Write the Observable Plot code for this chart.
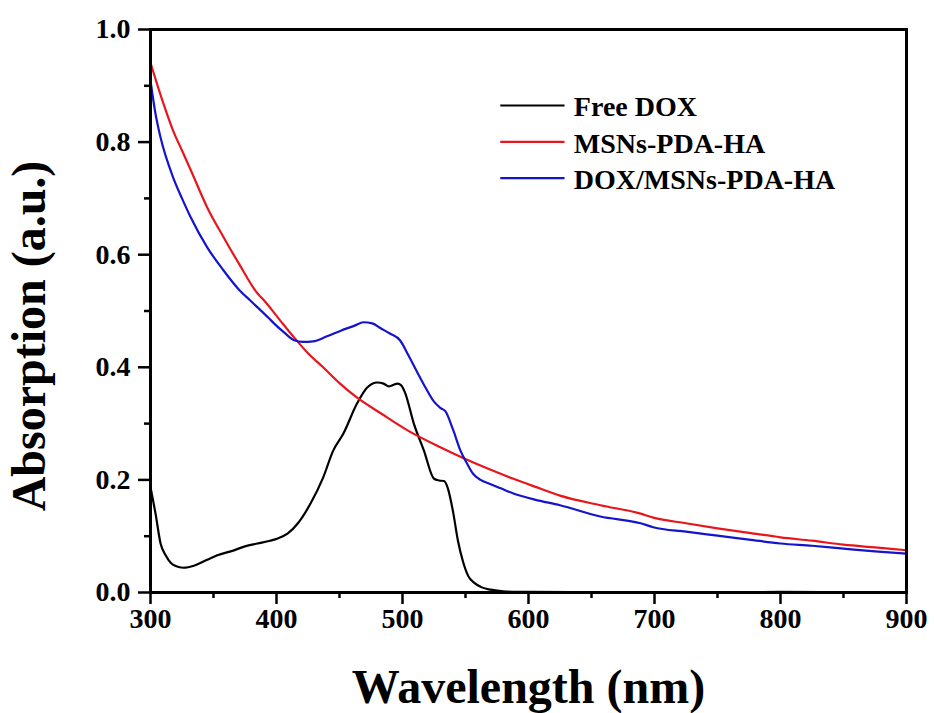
<!DOCTYPE html>
<html>
<head>
<meta charset="utf-8">
<script src="https://cdn.jsdelivr.net/npm/d3@7"></script>
<script src="https://cdn.jsdelivr.net/npm/@observablehq/plot@0.6"></script>
<style>
  html, body { margin: 0; padding: 0; background: #fff; }
</style>
</head>
<body>
<div id="chart"></div>
<script>
// ---- Data ----
const seriesNames = ["Free DOX", "MSNs-PDA-HA", "DOX/MSNs-PDA-HA"];
const seriesColors = ["#000000", "#e8161c", "#1414cc"];

const freeDoxWl  = [300, 304, 308, 312, 316, 320, 326, 335, 345, 353, 365, 375, 385, 395, 401, 409, 417, 427, 437, 445, 453, 464, 472, 480, 485, 489, 493, 496, 499, 502, 509, 517, 525, 529, 533, 536, 540, 544, 548, 552, 557, 562, 570, 580, 600, 700, 800, 900];
const freeDoxAbs = [0.187, 0.140, 0.087, 0.066, 0.053, 0.047, 0.044, 0.048, 0.058, 0.066, 0.074, 0.082, 0.087, 0.092, 0.096, 0.105, 0.123, 0.158, 0.204, 0.252, 0.282, 0.336, 0.364, 0.373, 0.371, 0.366, 0.369, 0.371, 0.368, 0.355, 0.300, 0.252, 0.202, 0.199, 0.198, 0.185, 0.145, 0.092, 0.055, 0.030, 0.017, 0.010, 0.005, 0.002, 0.001, 0.000, 0.001, 0.000];

const msnWl  = [300, 310, 318, 325, 332, 345, 358, 371, 385, 390, 403, 414, 425, 437, 450, 464, 483, 504, 530, 549, 570, 588, 605, 625, 657, 689, 699, 725, 750, 775, 800, 825, 850, 875, 900];
const msnAbs = [0.941, 0.870, 0.820, 0.785, 0.750, 0.684, 0.631, 0.581, 0.531, 0.519, 0.483, 0.453, 0.425, 0.400, 0.372, 0.346, 0.318, 0.288, 0.258, 0.238, 0.218, 0.202, 0.188, 0.172, 0.155, 0.140, 0.133, 0.123, 0.114, 0.106, 0.098, 0.092, 0.085, 0.080, 0.075];

const doxMsnWl  = [300, 304, 308, 318, 325, 332, 345, 358, 371, 379, 394, 398, 406, 414, 421, 429, 440, 451, 462, 469, 476, 483, 490, 498, 505, 512, 518, 525, 530, 534, 540, 546, 551, 556, 562, 569, 578, 588, 605, 625, 657, 689, 699, 725, 750, 775, 800, 825, 850, 875, 900];
const doxMsnAbs = [0.909, 0.850, 0.808, 0.737, 0.700, 0.666, 0.613, 0.572, 0.536, 0.519, 0.487, 0.478, 0.462, 0.448, 0.445, 0.446, 0.455, 0.465, 0.474, 0.480, 0.478, 0.469, 0.460, 0.448, 0.420, 0.390, 0.365, 0.339, 0.328, 0.322, 0.290, 0.252, 0.230, 0.211, 0.200, 0.193, 0.185, 0.176, 0.165, 0.155, 0.135, 0.123, 0.116, 0.108, 0.101, 0.094, 0.087, 0.083, 0.078, 0.073, 0.069];

const xMajorTicks = [300, 400, 500, 600, 700, 800, 900];
const xMinorTicks = [350, 450, 550, 650, 750, 850];
const yMajorTicks = [0, 0.2, 0.4, 0.6, 0.8, 1.0];
const yMinorTicks = [0.1, 0.3, 0.5, 0.7, 0.9];
const xTitle = "Wavelength (nm)";
const yTitle = "Absorption (a.u.)";

// ---- Build tables ----
const wlArrays = [freeDoxWl, msnWl, doxMsnWl];
const absArrays = [freeDoxAbs, msnAbs, doxMsnAbs];
const rows = [];
seriesNames.forEach((name, s) => {
  wlArrays[s].forEach((w, i) => rows.push({series: name, wl: w, abs: absArrays[s][i]}));
});

// legend layout (in data units)
const legendX1 = 578, legendX2 = 629, legendTextX = 636;
const legendTop = 0.865, legendStep = 0.0645;
const legendRows = seriesNames.map((name, i) => ({
  series: name, y: legendTop - i * legendStep
}));

const font = "'Liberation Serif', 'Times New Roman', serif";

const chart = Plot.plot({
  width: 934,
  height: 713,
  marginLeft: 150,
  marginRight: 28,
  marginTop: 29,
  marginBottom: 121,
  style: {fontFamily: font, fontSize: "28px", fontWeight: "bold", background: "#fff", color: "#000"},
  x: {domain: [300, 900]},
  y: {domain: [0, 1]},
  color: {domain: seriesNames, range: seriesColors},
  marks: [
    Plot.line(rows, {x: "wl", y: "abs", z: "series", stroke: "series", strokeWidth: 2.2, curve: "monotone-x"}),
    Plot.axisX({ticks: xMajorTicks, tickSize: 12, tickPadding: 4, strokeWidth: 2.5, tickFormat: d => String(d), label: null}),
    Plot.axisX({ticks: xMinorTicks, tickSize: 6, strokeWidth: 2.5, tickFormat: () => "", label: null}),
    Plot.axisY({ticks: yMajorTicks, tickSize: 12, tickPadding: 8, strokeWidth: 2.5, tickFormat: d3.format(".1f"), label: null}),
    Plot.axisY({ticks: yMinorTicks, tickSize: 6, strokeWidth: 2.5, tickFormat: () => "", label: null}),
    Plot.frame({stroke: "#000", strokeWidth: 3}),
    Plot.text([xTitle], {frameAnchor: "bottom", textAnchor: "middle", lineAnchor: "bottom", dy: 110, fontSize: 48, fontWeight: "bold", fill: "#000"}),
    Plot.text([yTitle], {frameAnchor: "left", textAnchor: "middle", lineAnchor: "bottom", rotate: -90, dx: -106, dy: 25, fontSize: 48, fontWeight: "bold", fill: "#000"}),
    Plot.ruleY(legendRows, {y: "y", x1: legendX1, x2: legendX2, stroke: "series", strokeWidth: 2.2}),
    Plot.text(legendRows, {x: legendTextX, y: "y", text: "series", textAnchor: "start", lineAnchor: "middle", dy: 2, fontSize: 28, fontWeight: "bold", fill: "#000"})
  ]
});

document.getElementById("chart").appendChild(chart);
</script>
</body>
</html>
